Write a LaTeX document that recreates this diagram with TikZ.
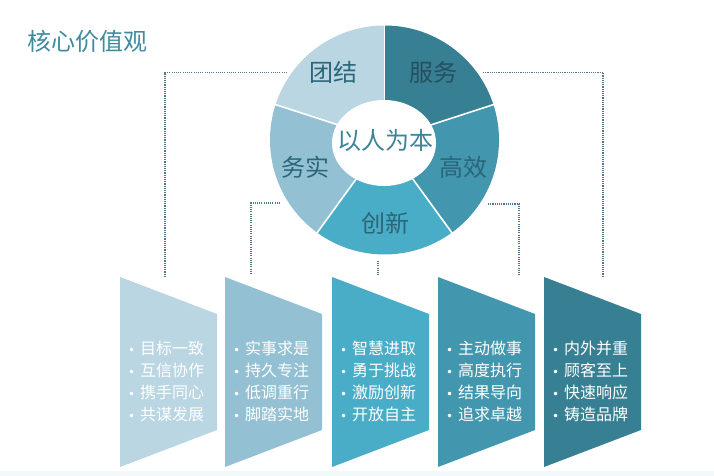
\documentclass[tikz,border=0pt]{standalone}
\usepackage{fontspec}
\setmainfont{Noto Sans CJK SC}
\newfontfamily\cjk{Noto Sans CJK SC}
\newfontfamily\bulfont{DejaVu Sans}
\definecolor{cA}{HTML}{B9D6E2}
\definecolor{cB}{HTML}{93C1D3}
\definecolor{cC}{HTML}{4AADC7}
\definecolor{cD}{HTML}{4296AE}
\definecolor{cE}{HTML}{377F92}
\definecolor{lbl}{HTML}{2B6579}
\definecolor{lbldark}{HTML}{25505F}
\definecolor{ttl}{HTML}{3F8BA0}
\definecolor{ctr}{HTML}{3B8399}
\definecolor{dotc}{HTML}{52758F}
\definecolor{band}{HTML}{F3F8FA}
\newcommand{\bl}{\makebox[17pt]{\bulfont\fontsize{12}{12}\selectfont •}}
\begin{document}
\begin{tikzpicture}[x=1pt,y=1pt,
  seglabel/.style={font=\cjk\fontsize{24}{26}\selectfont, text=lbl, inner sep=0pt},
  listtext/.style={font=\cjk\fontsize{16}{22}\selectfont, text=white, align=left, inner sep=0pt, anchor=west},
  dotline/.style={draw=dotc, line width=1.1pt, dash pattern=on 1.1pt off 1.1pt},
  sep/.style={draw=white, line width=1.6pt}]
\useasboundingbox (0,0) rectangle (714,476);
\fill[white] (0,0) rectangle (714,476);
\fill[band] (0,0) rectangle (714,5);

% title
\node[font=\cjk\fontsize{24}{26}\selectfont, text=ttl, anchor=west, inner sep=0pt] (title) at (27,435) {核心价值观};

% donut
\coordinate (C) at (384.5,336);
\def\R{114.5}
\fill[cA] (C) -- ++(90:\R) arc[start angle=90, end angle=162, radius=\R] -- cycle;
\fill[cE] (C) -- ++(18:\R) arc[start angle=18, end angle=90, radius=\R] -- cycle;
\fill[cD] (C) -- ++(-54:\R) arc[start angle=-54, end angle=18, radius=\R] -- cycle;
\fill[cC] (C) -- ++(-126:\R) arc[start angle=-126, end angle=-54, radius=\R] -- cycle;
\fill[cB] (C) -- ++(162:\R) arc[start angle=162, end angle=234, radius=\R] -- cycle;
\foreach \a in {90,18,-54,-126,162} \draw[sep] (C) -- ++(\a:\R+1);
\fill[white] (384,333) ellipse[x radius=52, y radius=43];

\node[seglabel] (tuanjie) at (333,404) {团结};
\node[seglabel, text=lbldark] (fuwu) at (433,404) {服务};
\node[seglabel] (gaoxiao) at (463,309) {高效};
\node[seglabel] (wushi) at (305,309) {务实};
\node[seglabel] (chuangxin) at (385,253) {创新};
\node[seglabel, text=ctr] (core) at (385,336) {以人为本};

% trapezoids
\foreach \x/\c [count=\i] in {120/cA,225/cB,332/cC,438/cD,544/cE}{
  \fill[\c] (\x,199) -- (\x+97,162) -- (\x+97,46) -- (\x,9) -- cycle;
  \coordinate (s\i) at (\x+48.5,199);
}

\node[listtext] (t1) at (123,95) {\bl 目标一致\\\bl 互信协作\\\bl 携手同心\\\bl 共谋发展};
\node[listtext] (t2) at (228,95) {\bl 实事求是\\\bl 持久专注\\\bl 低调重行\\\bl 脚踏实地};
\node[listtext] (t3) at (335,95) {\bl 智慧进取\\\bl 勇于挑战\\\bl 激励创新\\\bl 开放自主};
\node[listtext] (t4) at (441,95) {\bl 主动做事\\\bl 高度执行\\\bl 结果导向\\\bl 追求卓越};
\node[listtext] (t5) at (547,95) {\bl 内外并重\\\bl 顾客至上\\\bl 快速响应\\\bl 铸造品牌};

% connectors
\coordinate (a1) at (287,403.7);
\coordinate (b1) at (165,200);
\coordinate (a5) at (483,403.7);
\coordinate (b5) at (603,200);
\coordinate (a2) at (280,273);
\coordinate (b2) at (251,201);
\coordinate (a4) at (488,272);
\coordinate (b4) at (519,201);
\coordinate (a3) at (378,215);
\coordinate (b3) at (378,200);
\draw[dotline] (a1) -| (b1);
\draw[dotline] (a5) -| (b5);
\draw[dotline] (a2) -| (b2);
\draw[dotline] (a4) -| (b4);
\draw[dotline] (a3) -- (b3);
\end{tikzpicture}
\end{document}
